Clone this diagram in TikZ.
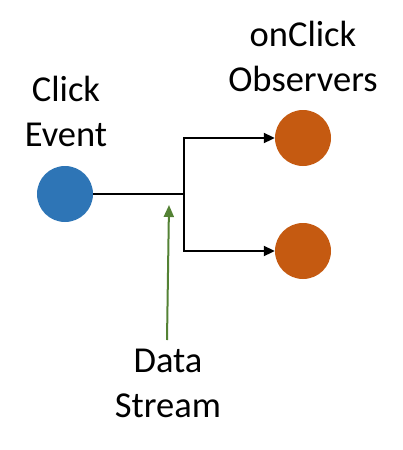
\documentclass[tikz,border=0pt]{standalone}
\usepackage{fontspec}
\setmainfont{Carlito}
\usetikzlibrary{arrows.meta}
\definecolor{evblue}{HTML}{2E75B6}
\definecolor{obsorange}{HTML}{C55A11}
\definecolor{strgreen}{HTML}{548235}
\begin{document}
\begin{tikzpicture}[x=1pt,y=-1pt,
  dot/.style={circle,inner sep=0pt,minimum size=56pt,draw=none},
  lbl/.style={align=center,inner sep=0pt,anchor=base,font=\fontsize{36.5}{45}\selectfont},
  flow/.style={line width=2pt,black,-{Triangle[length=11pt,width=10pt]}},
  plain/.style={line width=2pt,black},
  pointer/.style={line width=2pt,strgreen,-{Triangle[length=12pt,width=10pt]}}]
\useasboundingbox (0,0) rectangle (403,450);
\node[dot,fill=evblue] (src) at (65,194) {};
\node[dot,fill=obsorange] (o1) at (303,138) {};
\node[dot,fill=obsorange] (o2) at (303,251) {};
\coordinate (j) at (184,194);
\coordinate (g) at (169,205);
\coordinate (gt) at (167,340);
\node[lbl] (lclick) at (66,146) {Click\\Event};
\node[lbl] (lobs) at (303,91.7) {onClick\\Observers};
\node[lbl] (lds) at (168,417) {Data\\Stream};
\draw[plain] (src.east) -- (j);
\draw[flow] (j) |- (o1);
\draw[flow] (j) |- (o2);
\draw[pointer] (gt) -- (g);
\end{tikzpicture}
\end{document}
